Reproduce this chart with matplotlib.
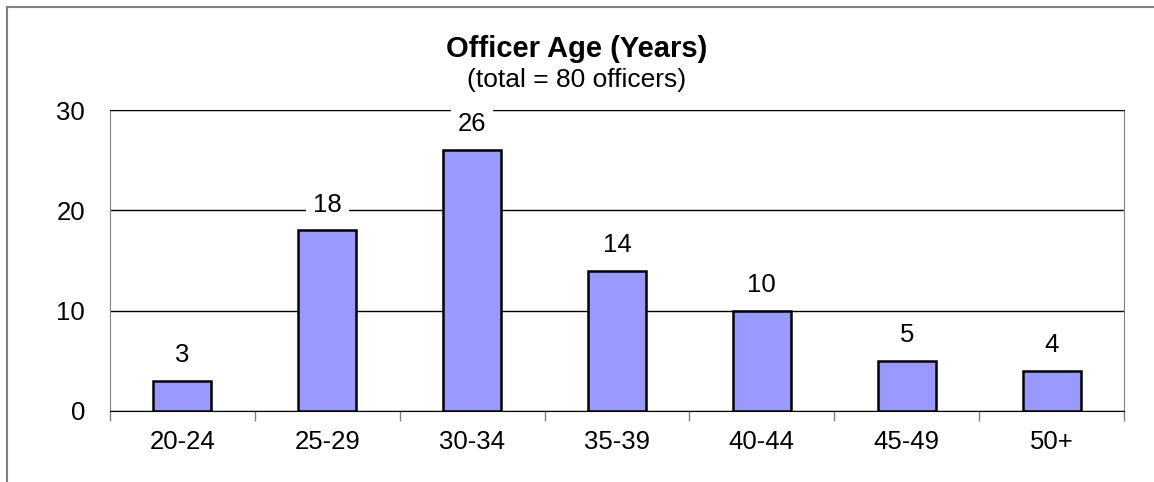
"""Officer age distribution — Excel-style bar chart."""

import matplotlib
matplotlib.use("Agg")
import matplotlib.pyplot as plt
from matplotlib.lines import Line2D
import numpy as np

age_groups = ["20-24", "25-29", "30-34", "35-39", "40-44", "45-49", "50+"]
officers = [3, 18, 26, 14, 10, 5, 4]
y_ticks = [0, 10, 20, 30]

plt.rcParams["font.family"] = ["Liberation Sans", "DejaVu Sans"]

W, H = 1154, 482
fig = plt.figure(figsize=(W / 100, H / 100), dpi=100)
ax = fig.add_axes([110 / W, 1 - 411 / H, (1124 - 110) / W, (411 - 110) / H])

x = np.arange(len(age_groups))
ax.bar(x, officers, width=0.4, color="#9999FF", edgecolor="black", linewidth=1.8, zorder=3)

# Value labels with white boxes over the gridlines
for xi, v in zip(x, officers):
    ax.annotate(str(v), xy=(xi, v), xytext=(0, 10), textcoords="offset points",
                ha="center", va="bottom", fontsize=18.5, zorder=4,
                bbox=dict(facecolor="white", edgecolor="none", pad=5))

ax.set_xlim(-0.5, len(age_groups) - 0.5)
ax.set_ylim(0, 30)
ax.set_yticks(y_ticks)
ax.set_yticklabels([str(t) for t in y_ticks], fontsize=18.5)
ax.yaxis.grid(True, color="black", linewidth=1.0, zorder=0)
ax.set_axisbelow(True)

# Category separators as ticks
ax.set_xticks(np.arange(len(age_groups) + 1) - 0.5, minor=False)
ax.set_xticklabels([])
ax.set_xticks(x, minor=True)
ax.set_xticklabels(age_groups, minor=True, fontsize=18.5)
ax.tick_params(axis="x", which="major", direction="out", length=7, color="#808080", width=1)
ax.tick_params(axis="x", which="minor", length=0, pad=14)
ax.tick_params(axis="y", length=0, pad=18)

for side in ["left", "right"]:
    ax.spines[side].set_color("#808080")
ax.spines["top"].set_color("black")
ax.spines["bottom"].set_color("black")

# Title and subtitle
fig.text(0.5, 1 - 57 / H, "Officer Age (Years)", ha="center", va="baseline",
         fontsize=21, fontweight="bold")
fig.text(0.5, 1 - 87 / H, "(total = 80 officers)", ha="center", va="baseline", fontsize=19)

# Chart frame (left and top edges visible)
fig.add_artist(Line2D([7 / W, 7 / W], [0, 1 - 7 / H], color="#808080", linewidth=1.5,
                      transform=fig.transFigure))
fig.add_artist(Line2D([7 / W, 1], [1 - 7 / H, 1 - 7 / H], color="#808080", linewidth=1.5,
                      transform=fig.transFigure))

fig.savefig("out.png", dpi=100, facecolor="white")
plt.close(fig)
